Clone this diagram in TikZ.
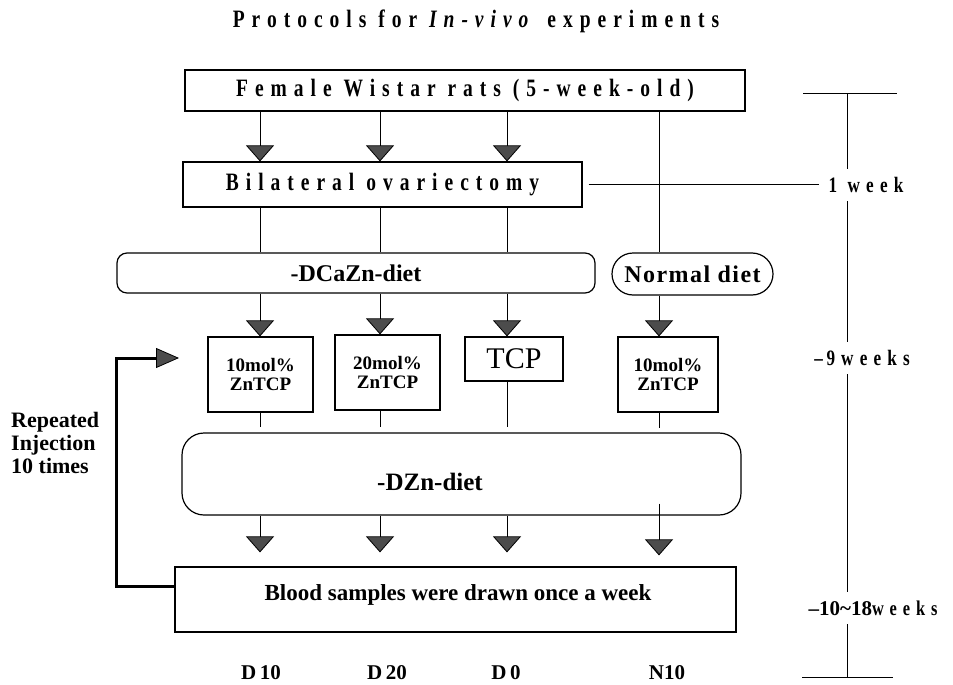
\documentclass[tikz,border=0pt]{standalone}
\usepackage{fontspec}
\setmainfont{Liberation Serif}
\newfontfamily\spc[LetterSpace=28,FakeStretch=0.78]{Liberation Serif}
\newfontfamily\spm[LetterSpace=6]{Liberation Serif}
\usetikzlibrary{arrows.meta,calc}
\newcommand{\fsz}[1]{\fontsize{#1}{#1}\selectfont}
\begin{document}
\begin{tikzpicture}[x=1pt,y=-1pt,
  box/.style={draw, line width=1.2pt, inner sep=0pt, fill=white},
  rbox/.style={box, rounded corners=#1},
  conn/.style={line width=0.9pt},
  tri/.style={conn, -{Triangle[length=16pt,width=28pt,fill=black!70,line width=0.8pt]}},
  fb/.style={line width=3pt, -{Triangle[length=23pt,width=20pt,fill=black!70,line width=0.8pt]}},
  lbl/.style={inner sep=0pt, font=\bfseries\fsz{21}},
  tl/.style={inner sep=0pt, minimum height=32pt, font=\spc\bfseries\fsz{22}}]
\useasboundingbox (0,0) rectangle (953,685);

% columns
\coordinate (c1) at (260,0);
\coordinate (c2) at (380,0);
\coordinate (c3) at (507,0);
\coordinate (c4) at (659,0);

% title
\node[inner sep=0pt] (title) at (476,21) {\spc\bfseries\fsz{25}Protocols for \textit{In-vivo} experiments};

% main boxes
\node[box, minimum width=560pt, minimum height=41pt] (rats) at (465,90.5)
  {\spc\bfseries\fsz{25}Female Wistar rats (5-week-old)};
\node[box, minimum width=399pt, minimum height=45pt] (ovx) at (382.5,184.5)
  {\spc\bfseries\fsz{25}Bilateral ovariectomy};
\node[rbox=10pt, minimum width=478pt, minimum height=40pt] (dcazn) at (356,273)
  {\bfseries\fsz{24}-DCaZn-diet};
\node[rbox=21pt, minimum width=161pt, minimum height=42pt] (normal) at (692.5,274)
  {\spm\bfseries\fsz{24}Normal diet};

\node[box, minimum width=105pt, minimum height=75pt, align=center] (b10) at (260.5,374.5)
  {\bfseries\fsz{19}10mol\%\\[5pt]\bfseries\fsz{19}ZnTCP};
\node[box, minimum width=105pt, minimum height=75pt, align=center] (b20) at (387.5,372.5)
  {\bfseries\fsz{19}20mol\%\\[5pt]\bfseries\fsz{19}ZnTCP};
\node[box, minimum width=98pt, minimum height=44pt] (tcp) at (514,359)
  {\fsz{30}TCP};
\node[box, minimum width=100pt, minimum height=75pt, align=center] (n10) at (668,374.5)
  {\bfseries\fsz{19}10mol\%\\[5pt]\bfseries\fsz{19}ZnTCP};

\node[rbox=22pt, minimum width=559pt, minimum height=82pt] (dzn) at (461.5,474) {};
\node[inner sep=0pt, font=\bfseries\fsz{25}] (dznt) at (430,482) {-DZn-diet};

\node[box, minimum width=561pt, minimum height=65pt] (blood) at (455.5,599.5) {};
\node[inner sep=0pt, font=\bfseries\fsz{23}] (bloodt) at (458,595) {Blood samples were drawn once a week};

% group labels
\node[lbl] (d10) at (261,673) {D\,10};
\node[lbl] (d20) at (387,673) {D\,20};
\node[lbl] (d0)  at (506,673) {D\,0};
\node[lbl] (n10l) at (667,673) {N10};

% repeated injection
\node[inner sep=0pt, anchor=west, align=left, font=\bfseries\fsz{22}] (rep) at (11,443)
  {Repeated\\[1pt]Injection\\[1pt]10 times};

% connectors row 1
\foreach \c in {c1,c2,c3} \draw[tri] (rats.south -| \c) -- (ovx.north -| \c);
\draw[conn] (rats.south -| c4) -- (normal.north -| c4);
% row 2
\foreach \c in {c1,c2,c3} \draw[conn] (ovx.south -| \c) -- (dcazn.north -| \c);
% row 3
\draw[tri] (dcazn.south -| c1) -- (b10.north -| c1);
\draw[tri] (dcazn.south -| c2) -- (b20.north -| c2);
\draw[tri] (dcazn.south -| c3) -- (tcp.north -| c3);
\draw[tri] (normal.south -| c4) -- (n10.north -| c4);
% row 4
\draw[conn, shorten >=5pt] (b10.south -| c1) -- (dzn.north -| c1);
\draw[conn, shorten >=5pt] (b20.south -| c2) -- (dzn.north -| c2);
\draw[conn, shorten >=5pt] (tcp.south -| c3) -- (dzn.north -| c3);
\draw[conn, shorten >=4pt] (n10.south -| c4) -- (dzn.north -| c4);
% row 5
\foreach \c in {c1,c2,c3} \draw[tri, shorten >=14pt] (dzn.south -| \c) -- (blood.north -| \c);
\coordinate (dzin) at ($(dzn.south -| c4)+(0,-12)$);
\draw[tri, shorten >=11pt] (dzin) -- (blood.north -| c4);

% feedback arrow
\coordinate (fbS) at ($(blood.north west)+(0,20)$);
\coordinate (fbX) at (116,0);
\coordinate (fbE) at (179,358);
\draw[fb] (fbS) -- (fbS -| fbX) -- (fbX |- fbE) -- (fbE);

% timeline
\coordinate (tT) at (847,93);
\coordinate (tB) at (847,677);
\coordinate (tTl) at (803,93);
\coordinate (tTr) at (897,93);
\coordinate (tBl) at (802,677);
\coordinate (tBr) at (893,677);
\node[tl] (wk1) at (866,185) {1 week};
\node[tl, font=\spc\bfseries\fsz{22}] (wk9) at (862,358) {\textendash\,9weeks};
\node[tl, font=\bfseries\fsz{21}] (wk18) at (873,608) {\textendash10\textasciitilde18{\spc weeks}};
\draw[conn] (tTl) -- (tTr);
\draw[conn] (tBl) -- (tBr);
\draw[conn] (tT) -- (wk1.north -| tT);
\draw[conn] (wk1.south -| tT) -- (wk9.north -| tT);
\draw[conn] (wk9.south -| tT) -- (wk18.north -| tT);
\draw[conn] (wk18.south -| tT) -- (tB);
\draw[conn, shorten <=6pt, shorten >=9pt] (ovx.east) -- (wk1.west |- ovx.east);
\end{tikzpicture}
\end{document}
